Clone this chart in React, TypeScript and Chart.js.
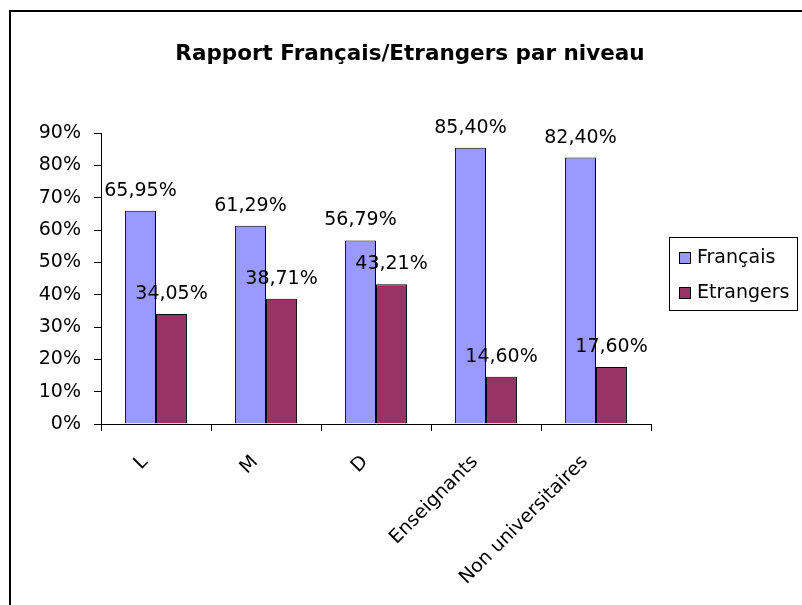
import React, { useEffect, useRef } from "react";
import { Chart, registerables } from "chart.js";

Chart.register(...registerables);

const categories = ["L", "M", "D", "Enseignants", "Non universitaires"];
const francais = [65.95, 61.29, 56.79, 85.4, 82.4];
const etrangers = [34.05, 38.71, 43.21, 14.6, 17.6];
const seriesNames = ["Français", "Etrangers"];
const seriesColors = ["#9999FF", "#993366"];
const titleText = "Rapport Français/Etrangers par niveau";
const yMax = 90;
const yStep = 10;

const FONT = "'DejaVu Sans', sans-serif";

const fmt = (v: number) => v.toFixed(2).replace(".", ",") + "%";

const decorPlugin = {
  id: "decor",
  afterDraw(chart: any) {
    const ctx = chart.ctx;
    ctx.save();
    // outer frame
    ctx.fillStyle = "#000";
    ctx.fillRect(9, 10, 2, 600);
    ctx.fillRect(9, 10, 800, 2);
    // title
    ctx.font = `bold 21.5px ${FONT}`;
    ctx.textAlign = "center";
    ctx.textBaseline = "alphabetic";
    ctx.fillText(titleText, 410, 60);
    // data labels
    ctx.font = `19px ${FONT}`;
    chart.data.datasets.forEach((ds: any, di: number) => {
      const meta = chart.getDatasetMeta(di);
      meta.data.forEach((el: any, i: number) => {
        ctx.fillText(fmt(ds.data[i]), el.x, el.y - 15);
      });
    });
    // legend
    ctx.lineWidth = 1;
    ctx.strokeStyle = "#000";
    ctx.strokeRect(669.5, 237.5, 128, 73);
    ctx.textAlign = "left";
    ctx.textBaseline = "middle";
    chart.data.datasets.forEach((ds: any, di: number) => {
      const cy = 258 + di * 35;
      ctx.fillStyle = ds.backgroundColor;
      ctx.fillRect(679, cy - 6, 11, 11);
      ctx.strokeRect(679.5, cy - 5.5, 11, 11);
      ctx.fillStyle = "#000";
      ctx.fillText(ds.label, 697, cy);
    });
    ctx.restore();
  },
};

export default function App() {
  const ref = useRef<HTMLCanvasElement>(null);
  useEffect(() => {
    if (!ref.current) return;
    const chart = new Chart(ref.current, {
      type: "bar",
      data: {
        labels: categories,
        datasets: [
          {
            label: seriesNames[0],
            data: francais,
            backgroundColor: seriesColors[0],
            borderColor: "#000",
            borderWidth: 1,
          },
          {
            label: seriesNames[1],
            data: etrangers,
            backgroundColor: seriesColors[1],
            borderColor: "#000",
            borderWidth: 1,
          },
        ],
      },
      options: {
        animation: false,
        responsive: false,
        layout: { padding: { top: 133, right: 151, left: 0, bottom: 0 } },
        plugins: { legend: { display: false }, title: { display: false }, tooltip: { enabled: false } },
        datasets: { bar: { categoryPercentage: 0.565, barPercentage: 1 } },
        scales: {
          x: {
            grid: { drawOnChartArea: false, drawTicks: true, tickLength: 7, color: "#000", offset: true },
            border: { color: "#000", width: 1 },
            ticks: {
              color: "#000",
              font: { family: FONT, size: 19 },
              minRotation: 45,
              maxRotation: 45,
              autoSkip: false,
              padding: 20,
              labelOffset: -11,
            },
            afterFit: (s: any) => {
              s.height = 181;
            },
          },
          y: {
            min: 0,
            max: yMax,
            grid: { drawOnChartArea: false, drawTicks: true, tickLength: 7, color: "#000" },
            border: { color: "#000", width: 1 },
            ticks: {
              stepSize: yStep,
              color: "#000",
              font: { family: FONT, size: 19 },
              padding: 13,
              callback: (v: any) => `${v}%`,
            },
            afterFit: (s: any) => {
              s.width = 101;
            },
          },
        },
      },
      plugins: [decorPlugin],
    });
    return () => chart.destroy();
  }, []);
  return (
    <div style={{ position: "fixed", left: 0, top: 0, width: 802, height: 605, background: "#fff" }}>
      <canvas ref={ref} width={802} height={605} style={{ width: 802, height: 605 }} />
    </div>
  );
}
